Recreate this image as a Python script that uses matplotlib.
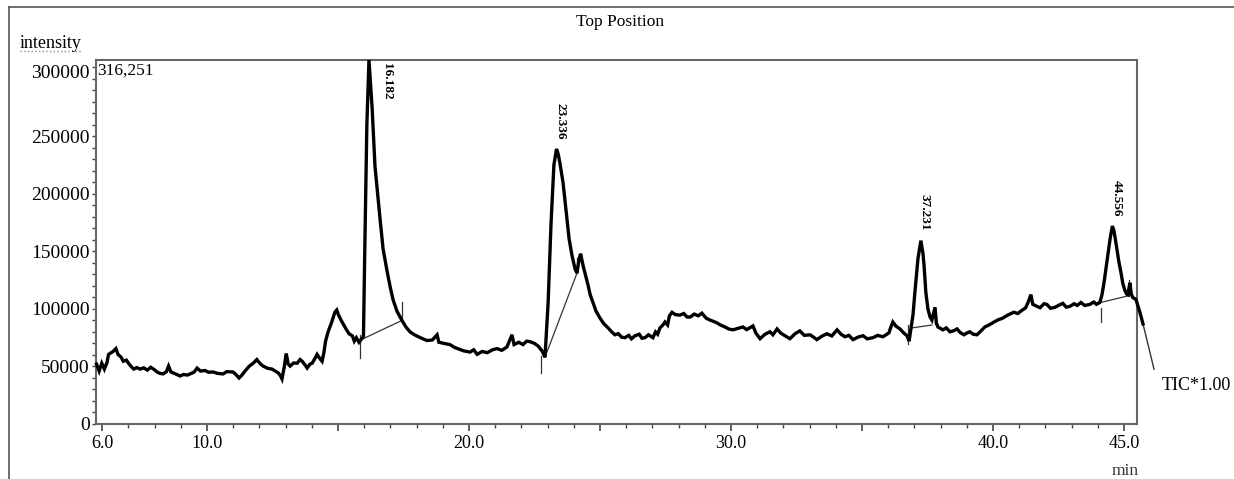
import numpy as np
import matplotlib.pyplot as plt
from matplotlib.lines import Line2D
from matplotlib.transforms import ScaledTranslation

plt.rcParams['font.family'] = ['Liberation Serif', 'DejaVu Serif']

# retention time (min) and TIC intensity
time_min = [
    5.78, 5.88, 5.98, 6.08, 6.18, 6.24, 6.41, 6.52, 6.60, 6.72, 6.80, 6.92, 7.00, 7.10,
    7.20, 7.32, 7.44, 7.58, 7.72, 7.85, 8.00, 8.09, 8.20, 8.32, 8.45, 8.53, 8.62, 8.80,
    8.97, 9.10, 9.25, 9.35, 9.50, 9.62, 9.75, 9.92, 10.05, 10.23, 10.40, 10.61, 10.75,
    10.99, 11.10, 11.22, 11.33, 11.45, 11.60, 11.76, 11.90, 11.95, 12.05, 12.14, 12.30,
    12.48, 12.60, 12.71, 12.80, 12.86, 12.95, 13.02, 13.10, 13.17, 13.30, 13.44, 13.55,
    13.63, 13.75, 13.82, 13.93, 14.01, 14.12, 14.20, 14.30, 14.39, 14.46, 14.52, 14.62,
    14.75, 14.88, 14.95, 15.02, 15.12, 15.22, 15.32, 15.42, 15.55, 15.62, 15.70, 15.80,
    15.90, 15.97, 16.02, 16.10, 16.18,
    16.30, 16.41, 16.60, 16.72, 16.87, 17.00, 17.10, 17.25, 17.44, 17.60, 17.75, 17.92,
    18.05, 18.24, 18.40, 18.60, 18.78, 18.85, 19.05, 19.27, 19.45, 19.62, 19.80, 20.04,
    20.18, 20.31, 20.50, 20.70, 20.90, 21.07, 21.25, 21.45, 21.64, 21.72, 21.90, 22.06,
    22.20, 22.33, 22.50, 22.65, 22.80, 22.90,
    23.02, 23.13, 23.24, 23.34, 23.40, 23.47, 23.59, 23.70, 23.82, 23.93, 24.05, 24.12,
    24.20, 24.26, 24.35, 24.45, 24.54, 24.63, 24.73, 24.85, 25.00, 25.15, 25.31, 25.45,
    25.57, 25.70, 25.82, 25.95, 26.10, 26.20, 26.34, 26.50, 26.60, 26.72, 26.85, 27.02,
    27.12, 27.20, 27.29, 27.40, 27.48, 27.58, 27.65, 27.75, 27.88, 28.05, 28.20, 28.32,
    28.44, 28.60, 28.75, 28.89, 29.05, 29.20, 29.35, 29.47, 29.60, 29.77, 29.92, 30.08,
    30.25, 30.46, 30.60, 30.84, 30.95, 31.11, 31.30, 31.49, 31.60, 31.76, 31.90, 32.06,
    32.25, 32.45, 32.63, 32.80, 33.02, 33.15, 33.28, 33.45, 33.66, 33.85, 34.05, 34.20,
    34.35, 34.50, 34.66, 34.85, 35.04, 35.20, 35.42, 35.60, 35.80, 35.92, 36.03, 36.10,
    36.18, 36.30, 36.45, 36.60, 36.72, 36.80, 36.87, 36.95, 37.02, 37.14, 37.25, 37.33,
    37.37, 37.44, 37.52, 37.60, 37.67, 37.73, 37.79, 37.84, 37.90, 38.00, 38.09, 38.22,
    38.36, 38.50, 38.63, 38.75, 38.89, 39.00, 39.12, 39.25, 39.39, 39.55, 39.69, 39.85,
    40.04, 40.20, 40.38, 40.55, 40.80, 40.95, 41.11, 41.25, 41.34, 41.45, 41.52, 41.60,
    41.80, 41.95, 42.06, 42.20, 42.37, 42.50, 42.67, 42.80, 42.94, 43.10, 43.22, 43.36,
    43.50, 43.70, 43.85, 43.95, 44.08, 44.16, 44.24, 44.32, 44.39, 44.48, 44.56, 44.62,
    44.73, 44.80, 44.89, 44.96, 45.04, 45.10, 45.15, 45.23, 45.28, 45.34, 45.46, 45.61,
    45.73,
]
intensity = [
    52000, 46000, 52800, 47700, 53500, 60500, 63000, 65500, 60500, 58000, 54500, 55500,
    52800, 50000, 47700, 49000, 47700, 48800, 46800, 49300, 47000, 45200, 44000, 43500,
    45500, 50300, 45200, 43500, 41700, 43000, 42500, 43500, 45000, 48600, 46000, 46500,
    45000, 45200, 44000, 43500, 45500, 45200, 43000, 40000, 42500, 46000, 50000, 52800,
    56000, 54500, 52000, 50300, 48500, 47700, 46000, 44500, 42000, 39200, 50000, 61300,
    52000, 50300, 53000, 52800, 56000, 54500, 51000, 48600, 52000, 52800, 57000, 60500,
    57000, 54500, 62000, 71600, 80100, 88000, 97100, 99000, 94600, 90000, 86000, 82000,
    78400, 76500, 72000, 75000, 71000, 74000, 76000, 150000, 260000, 316251,
    275000, 224000, 179000, 152000, 133000, 118000, 108000, 98000, 90000, 84000, 80000,
    77500, 76000, 74000, 72500, 73000, 77500, 71000, 70000, 69000, 66500, 65000, 63500,
    62500, 64500, 60500, 63000, 62000, 64500, 65500, 64000, 67000, 77500, 69000, 71000,
    69000, 72000, 71500, 70000, 67500, 63000, 58000,
    105600, 173800, 225000, 239000, 235000, 226600, 209600, 186600, 161000, 146500,
    134600, 131200, 143000, 148000, 138000, 129000, 121000, 112000, 105600, 98000, 92000,
    87000, 83500, 80000, 77500, 78500, 75500, 75000, 77000, 74000, 76700, 78000, 74500,
    75000, 77500, 75000, 80000, 78000, 83500, 86000, 88600, 86000, 94000, 97000, 95000,
    94600, 96000, 93000, 92900, 95500, 94000, 96300, 92000, 90300, 89000, 87800, 86000,
    84300, 82500, 81800, 83000, 84300, 82000, 85200, 79000, 74100, 78000, 80100, 77500,
    82600, 79000, 76700, 74100, 78500, 80900, 77000, 77500, 75500, 73300, 76000, 78400,
    76500, 81800, 78000, 75800, 77000, 73300, 75500, 76700, 74000, 75000, 77000, 75800,
    77500, 79200, 84000, 88600, 85000, 82600, 79000, 76700, 72000, 82600, 95000, 114200,
    144000, 159300, 148000, 138000, 114200, 99700, 93000, 90300, 96000, 101400, 88000,
    84300, 83000, 81800, 83500, 80100, 81000, 82600, 79500, 77500, 79000, 80100, 78000,
    77500, 81000, 84300, 86000, 88600, 90500, 92000, 94500, 97100, 96000, 98800, 101000,
    105600, 112400, 104000, 103100, 101000, 104500, 103900, 100500, 101400, 103000,
    104800, 101500, 102200, 104500, 103000, 105600, 103000, 103900, 106000, 104000,
    105600, 112000, 122700, 136000, 148200, 162000, 172000, 168000, 152500, 142000,
    131200, 122000, 115900, 113000, 112400, 122700, 113000, 109900, 108200, 97100, 86900,
]

peak_labels = ['16.182', '23.336', '37.231', '44.556']
peak_rt = [16.182, 23.336, 37.231, 44.556]
peak_top = [316251, 239000, 159300, 172000]

# integration baselines: (start time, start value, end time, end value)
baseline_t0 = [15.95, 22.90, 36.91, 44.12]
baseline_v0 = [74000, 58000, 83500, 105600]
baseline_t1 = [17.44, 24.12, 37.67, 45.19]
baseline_v1 = [90000, 131000, 86000, 111500]

# small peak start/end marks: time, low, high
mark_t = [15.84, 17.44, 22.75, 24.12, 36.76, 37.79, 44.12, 45.19]
mark_lo = [57000, 90000, 44300, 131000, 69800, 86900, 88600, 111000]
mark_hi = [77500, 105600, 58800, 144000, 86000, 101000, 101000, 125000]

W, H = 1234, 479
fig = plt.figure(figsize=(W / 100, H / 100), dpi=100)
ax = fig.add_axes([96 / W, 1 - 424 / H, (1137 - 96) / W, (424 - 60) / H])

ax.plot(time_min, intensity, color='black', lw=2.4, clip_on=False, zorder=3,
        solid_joinstyle='miter')

for t0, v0, t1, v1 in zip(baseline_t0, baseline_v0, baseline_t1, baseline_v1):
    ax.plot([t0, t1], [v0, v1], color='#333333', lw=0.9, zorder=2)
for t, lo, hi in zip(mark_t, mark_lo, mark_hi):
    ax.plot([t, t], [lo, hi], color='#333333', lw=0.9, zorder=2)

ymax = 316251
for lab, rt, top in zip(peak_labels, peak_rt, peak_top):
    if top >= ymax:
        ax.annotate(lab, (rt, ymax), xytext=(13, -2), textcoords='offset points',
                    rotation=-90, ha='center', va='top', fontsize=9.5,
                    fontweight='bold')
    else:
        ax.annotate(lab, (rt, top), xytext=(3, 7), textcoords='offset points',
                    rotation=-90, ha='center', va='bottom', fontsize=9.5,
                    fontweight='bold')

# leader to the TIC label
ax.plot([45.73, 46.15], [86900, 47600], color='#333333', lw=1.0, clip_on=False)
ax.text(46.45, 33200, 'TIC*1.00', fontsize=13, ha='left', va='center', clip_on=False)

ax.set_xlim(5.76, 45.5)
ax.set_ylim(0, ymax)

ax.set_xticks([6, 10, 15, 20, 25, 30, 35, 40, 45])
ax.set_xticklabels(['6.0', '10.0', '', '20.0', '', '30.0', '', '40.0', '45.0'], fontsize=13)
ax.set_xticks(np.arange(6, 46, 1), minor=True)
ax.set_yticks(np.arange(0, 300001, 50000))
ax.set_yticklabels([str(v) for v in range(0, 300001, 50000)], fontsize=14)
ax.set_yticks(np.arange(0, 310001, 10000), minor=True)

ax.tick_params(axis='x', which='major', direction='out', length=5, width=1.2, pad=3, color='#444444')
ax.tick_params(axis='x', which='minor', direction='out', length=3, width=1.0, color='#444444')
ax.tick_params(axis='y', which='major', direction='out', length=3, width=1.0, pad=1.5, color='#444444')
ax.tick_params(axis='y', which='minor', direction='out', length=3, width=1.0, color='#444444')

# the top value label sits a little higher in the original
top_lbl = ax.get_yticklabels()[-1]
top_lbl.set_transform(top_lbl.get_transform() + ScaledTranslation(0, 0.07, fig.dpi_scale_trans))

for s in ax.spines.values():
    s.set_color('#666666')
    s.set_linewidth(1.5)

# outer frame of the report
fig.add_artist(Line2D([9 / W, 9 / W], [0, 1 - 7 / H], transform=fig.transFigure,
                      color='#555555', lw=1.2))
fig.add_artist(Line2D([9 / W, 1], [1 - 7 / H, 1 - 7 / H], transform=fig.transFigure,
                      color='#555555', lw=1.2))

fig.text(620 / W, 1 - 22 / H, 'Top Position', fontsize=12.5, ha='center', va='center')
fig.text(20 / W, 1 - 43 / H, 'intensity', fontsize=13, ha='left', va='center')
fig.add_artist(Line2D([20 / W, 82 / W], [1 - 51 / H, 1 - 51 / H], transform=fig.transFigure,
                      color='#7aa05a', lw=1.0, ls=':'))
fig.text(97 / W, 1 - 71 / H, '316,251', fontsize=12.5, ha='left', va='center')
fig.text(1125 / W, 1 - 463 / H, 'min', fontsize=12.5, ha='center', va='top', color='#333333')

fig.savefig('out.png', dpi=100)
